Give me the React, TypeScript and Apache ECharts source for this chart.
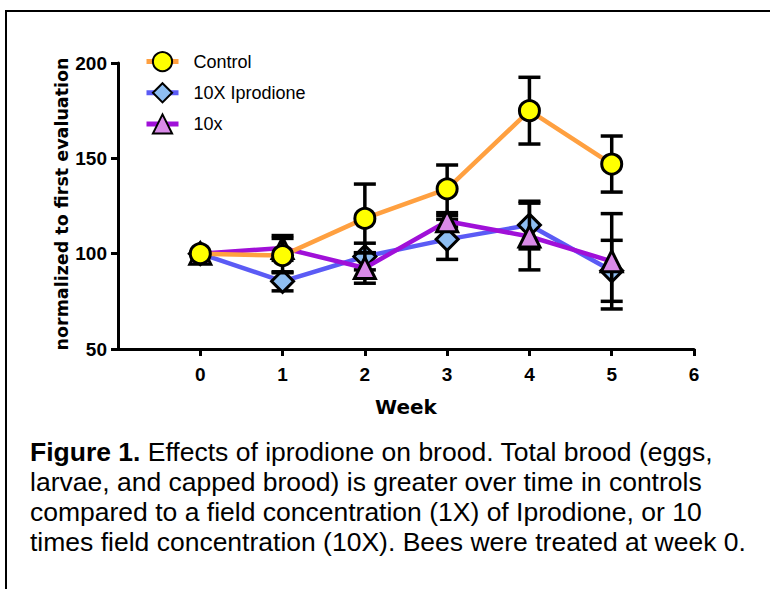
import React, { useEffect, useRef } from "react";
import * as echarts from "echarts";

const weeks = [0, 1, 2, 3, 4, 5];
const controlMean = [100, 99, 118.5, 134, 175, 147];
const controlErr = [0, 9, 18, 12.5, 17.5, 14.7];
const iprodioneMean = [100, 85.5, 98.5, 107.5, 115, 91];
const iprodioneErr = [0, 5, 7, 10.5, 12.5, 16];
const tenxMean = [100, 103, 92.5, 117, 109, 96];
const tenxErr = [0, 6.5, 8, 3, 17.5, 25];
const xTicks = [0, 1, 2, 3, 4, 5, 6];
const yTitle = "normalized to first evaluation";

const captionLines = [
  "{b|Figure 1.} Effects of iprodione on brood. Total brood (eggs,",
  "larvae, and capped brood) is greater over time in controls",
  "compared to a field concentration (1X) of Iprodione, or 10",
  "times field concentration (10X). Bees were treated at week 0.",
];

const FONT = "'Liberation Sans', Arial, sans-serif";

function errorSeries(name: string, means: number[], errs: number[], z: number) {
  return {
    type: "custom",
    name,
    z,
    silent: true,
    data: weeks.map((w, i) => [w, means[i], errs[i]]),
    encode: { x: 0, y: 1 },
    renderItem: (_params: any, api: any) => {
      const x = api.value(0);
      const m = api.value(1);
      const e = api.value(2);
      if (!e) return { type: "group", children: [] };
      const top = api.coord([x, m + e]);
      const bot = api.coord([x, m - e]);
      const half = 11;
      const st = { stroke: "#000", lineWidth: 3.5 };
      return {
        type: "group",
        children: [
          { type: "line", shape: { x1: top[0], y1: top[1], x2: bot[0], y2: bot[1] }, style: st },
          { type: "line", shape: { x1: top[0] - half, y1: top[1], x2: top[0] + half, y2: top[1] }, style: st },
          { type: "line", shape: { x1: bot[0] - half, y1: bot[1], x2: bot[0] + half, y2: bot[1] }, style: st },
        ],
      };
    },
  };
}

function lineSeries(
  name: string,
  means: number[],
  symbol: string,
  size: number,
  fill: string,
  lineColor: string,
  z: number
) {
  return {
    type: "line",
    name,
    z,
    data: weeks.map((w, i) => [w, means[i]]),
    symbol,
    symbolSize: size,
    showAllSymbol: true,
    itemStyle: { color: fill, borderColor: "#000", borderWidth: 3 },
    lineStyle: { color: lineColor, width: 4.5 },
  };
}

export default function App() {
  const ref = useRef<HTMLDivElement>(null);
  useEffect(() => {
    const chart = echarts.init(ref.current!, null, { renderer: "svg" });
    chart.setOption({
      animation: false,
      backgroundColor: "#fff",
      grid: { left: 118, right: 76, top: 63, bottom: 240 },
      xAxis: {
        type: "value",
        min: -1,
        max: 6,
        interval: 1,
        name: "Week",
        nameLocation: "middle",
        nameGap: 48,
        nameTextStyle: { fontFamily: "'DejaVu Sans', sans-serif", fontWeight: "bold", fontSize: 20, color: "#000" },
        axisLine: { onZero: false, lineStyle: { color: "#000", width: 3 } },
        axisTick: { length: 7, lineStyle: { color: "#000", width: 3 }, customValues: xTicks },
        axisLabel: {
          customValues: xTicks,
          fontFamily: FONT,
          fontWeight: "bold",
          fontSize: 19,
          color: "#000",
          margin: 16,
          formatter: (v: number) => (v < 0 ? "" : String(v)),
        },
        splitLine: { show: false },
      },
      yAxis: {
        type: "value",
        min: 50,
        max: 200,
        interval: 50,
        axisLine: { show: true, onZero: false, lineStyle: { color: "#000", width: 3 } },
        axisTick: { show: true, length: 7, lineStyle: { color: "#000", width: 3 } },
        axisLabel: { fontFamily: FONT, fontWeight: "bold", fontSize: 19, color: "#000", margin: 11 },
        splitLine: { show: false },
      },
      legend: {
        orient: "vertical",
        left: 144,
        top: 51,
        itemWidth: 32,
        itemHeight: 24,
        itemGap: 10,
        padding: 0,
        data: ["Control", "10X Iprodione", "10x"],
        lineStyle: { width: 5 },
        textStyle: { fontFamily: FONT, fontSize: 18, color: "#000", padding: [0, 0, 0, 10] },
      },
      graphic: [
        {
          type: "rect",
          shape: { x: 6, y: 11, width: 800, height: 700 },
          style: { fill: "none", stroke: "#000", lineWidth: 2 },
          silent: true,
        },
        {
          type: "text",
          x: 62,
          y: 204,
          rotation: Math.PI / 2,
          style: {
            text: yTitle,
            align: "center",
            verticalAlign: "middle",
            fontFamily: "'DejaVu Sans', sans-serif",
            fontWeight: "bold",
            fontSize: 17.5,
            fill: "#000",
          },
        },
        {
          type: "text",
          left: 30,
          top: 437,
          style: {
            text: captionLines.join("\n"),
            fontFamily: FONT,
            fontSize: 26.5,
            lineHeight: 30,
            fill: "#000",
            rich: {
              b: { fontFamily: FONT, fontSize: 26.5, fontWeight: "bold", lineHeight: 30, fill: "#000" },
            },
          },
        },
      ],
      series: [
        errorSeries("err-ip", iprodioneMean, iprodioneErr, 2),
        lineSeries("10X Iprodione", iprodioneMean, "diamond", 22, "#8EBEF2", "#5B5BF5", 3),
        errorSeries("err-10x", tenxMean, tenxErr, 4),
        lineSeries("10x", tenxMean, "triangle", 21, "#D98AE8", "#A010D8", 5),
        errorSeries("err-ctrl", controlMean, controlErr, 6),
        lineSeries("Control", controlMean, "circle", 20, "#FFFF00", "#FFA040", 7),
      ],
    });
    return () => chart.dispose();
  }, []);
  return <div ref={ref} style={{ width: 770, height: 589, position: "absolute", left: 0, top: 0 }} />;
}
